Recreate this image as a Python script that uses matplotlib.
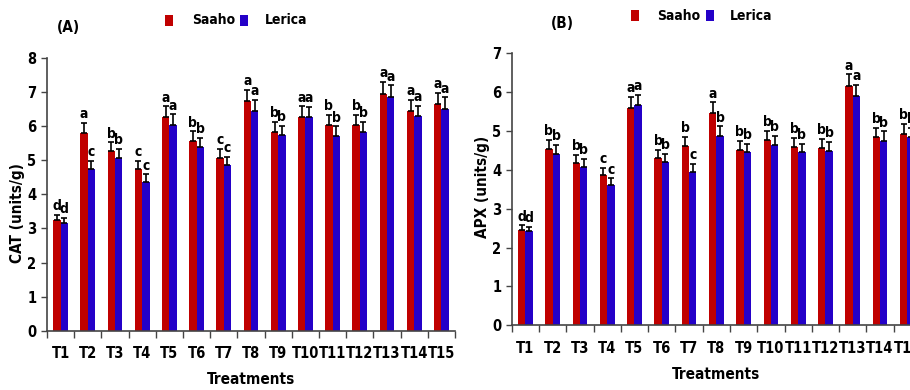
import matplotlib
matplotlib.use("Agg")
import matplotlib.pyplot as plt
import numpy as np
from matplotlib.patches import Rectangle

plt.rcParams['font.family'] = ['DejaVu Sans']
plt.rcParams['font.weight'] = 'bold'
plt.rcParams['font.stretch'] = 'condensed'

treatments = ["T1", "T2", "T3", "T4", "T5", "T6", "T7", "T8", "T9", "T10",
              "T11", "T12", "T13", "T14", "T15"]
series = ["Saaho", "Lerica"]

cat_saaho = [3.25, 5.80, 5.27, 4.75, 6.27, 5.57, 5.08, 6.73, 5.84, 6.27, 6.04, 6.04, 6.95, 6.45, 6.65]
cat_lerica = [3.15, 4.75, 5.08, 4.37, 6.05, 5.38, 4.87, 6.45, 5.73, 6.26, 5.71, 5.84, 6.86, 6.29, 6.52]
cat_err_saaho = [0.16, 0.29, 0.26, 0.24, 0.31, 0.28, 0.25, 0.34, 0.29, 0.31, 0.30, 0.30, 0.35, 0.32, 0.33]
cat_err_lerica = [0.16, 0.24, 0.25, 0.22, 0.30, 0.27, 0.24, 0.32, 0.29, 0.31, 0.29, 0.29, 0.34, 0.31, 0.33]
cat_let_saaho = ["d", "a", "b", "c", "a", "b", "c", "a", "b", "a", "b", "b", "a", "a", "a"]
cat_let_lerica = ["d", "c", "b", "c", "a", "b", "c", "a", "b", "a", "b", "b", "a", "a", "a"]

apx_saaho = [2.45, 4.55, 4.18, 3.86, 5.60, 4.30, 4.62, 5.47, 4.52, 4.77, 4.60, 4.57, 6.15, 4.85, 4.93]
apx_lerica = [2.42, 4.42, 4.08, 3.60, 5.66, 4.20, 3.95, 4.88, 4.46, 4.65, 4.46, 4.50, 5.90, 4.75, 4.85]
apx_err_saaho = [0.12, 0.23, 0.21, 0.19, 0.28, 0.22, 0.23, 0.27, 0.23, 0.24, 0.23, 0.23, 0.31, 0.24, 0.25]
apx_err_lerica = [0.12, 0.22, 0.20, 0.18, 0.28, 0.21, 0.20, 0.24, 0.22, 0.23, 0.22, 0.23, 0.29, 0.24, 0.24]
apx_let_saaho = ["d", "b", "b", "c", "a", "b", "b", "a", "b", "b", "b", "b", "a", "b", "b"]
apx_let_lerica = ["d", "b", "b", "c", "a", "b", "c", "b", "b", "b", "b", "b", "a", "b", "b"]

RED = "#C00000"
BLUE = "#2400C8"
SPINE = "#444444"

W, H = 910.0, 390.0
fig = plt.figure(figsize=(9.1, 3.9), dpi=100)


def legend_px(x_red, x_txt1, x_blue, x_txt2, yc):
    # legend entries placed in figure pixel positions (converted to fractions)
    for xr, col in [(x_red, RED), (x_blue, BLUE)]:
        fig.patches.append(Rectangle((xr / W, 1 - (yc + 5.5) / H), 8 / W, 11 / H,
                                     transform=fig.transFigure, facecolor=col,
                                     edgecolor='none'))
    for xt, name in [(x_txt1, series[0]), (x_txt2, series[1])]:
        fig.text(xt / W, 1 - yc / H, name, ha='center', va='center',
                 fontsize=10, fontweight='bold')


def panel(rect, s1, s2, e1, e2, l1, l2, ymax, ylabel, ylab_xy, tag, tagpos):
    ax = fig.add_axes(rect)
    x = np.arange(len(treatments))
    w = 0.27
    for off, vals, errs, lets, col in [(-w / 2, s1, e1, l1, RED), (w / 2, s2, e2, l2, BLUE)]:
        ax.bar(x + off, vals, width=w, color=col, edgecolor='none', zorder=2)
        ax.errorbar(x + off, vals, yerr=[np.zeros(len(vals)), errs], fmt='none',
                    ecolor='black', elinewidth=1.2, capsize=2.5, capthick=1.2, zorder=3)
        for xi, v, er, lt in zip(x + off, vals, errs, lets):
            ax.text(xi, v + er + 0.05 * ymax / 8, lt, ha='center', va='bottom',
                    fontsize=10, fontweight='bold', color='black', clip_on=False)
    ax.set_xlim(-0.5, len(treatments) - 0.5)
    ax.set_ylim(0, ymax)
    ax.set_yticks(range(0, ymax + 1))
    ax.set_xticks(x)
    ax.set_xticklabels(treatments)
    ax.set_xticks(np.arange(-0.5, len(treatments)), minor=True)
    ax.tick_params(axis='x', which='major', length=0, pad=11, labelsize=10.5)
    ax.tick_params(axis='x', which='minor', length=5, width=1, color=SPINE, direction='out')
    ax.tick_params(axis='y', length=4, width=1, color=SPINE, labelsize=10.5, direction='out')
    for sp in ['top', 'right']:
        ax.spines[sp].set_visible(False)
    for sp in ['left', 'bottom']:
        ax.spines[sp].set_color(SPINE)
        ax.spines[sp].set_linewidth(1.2)
    ax.set_ylabel(ylabel, fontsize=11, fontweight='bold')
    ax.yaxis.set_label_coords(*ylab_xy)
    ax.set_xlabel("Treatments", fontsize=11, fontweight='bold', labelpad=8)
    fig.text(tagpos[0], tagpos[1], tag, fontsize=11, fontweight='bold', ha='left', va='center')
    return ax


panel([0.0516, 0.152, 0.4484, 0.699], cat_saaho, cat_lerica, cat_err_saaho, cat_err_lerica,
      cat_let_saaho, cat_let_lerica, 8, "CAT (units/g)", (-0.054, 0.43), "(A)", (0.063, 0.93))
panel([0.5623, 0.166, 0.4497, 0.697], apx_saaho, apx_lerica, apx_err_saaho, apx_err_lerica,
      apx_let_saaho, apx_let_lerica, 7, "APX (units/g)", (-0.053, 0.51), "(B)", (0.605, 0.94))

legend_px(165, 213.5, 240, 286, 20.5)
legend_px(631, 678.5, 706, 751, 15.5)

fig.savefig("out.png", dpi=100)
